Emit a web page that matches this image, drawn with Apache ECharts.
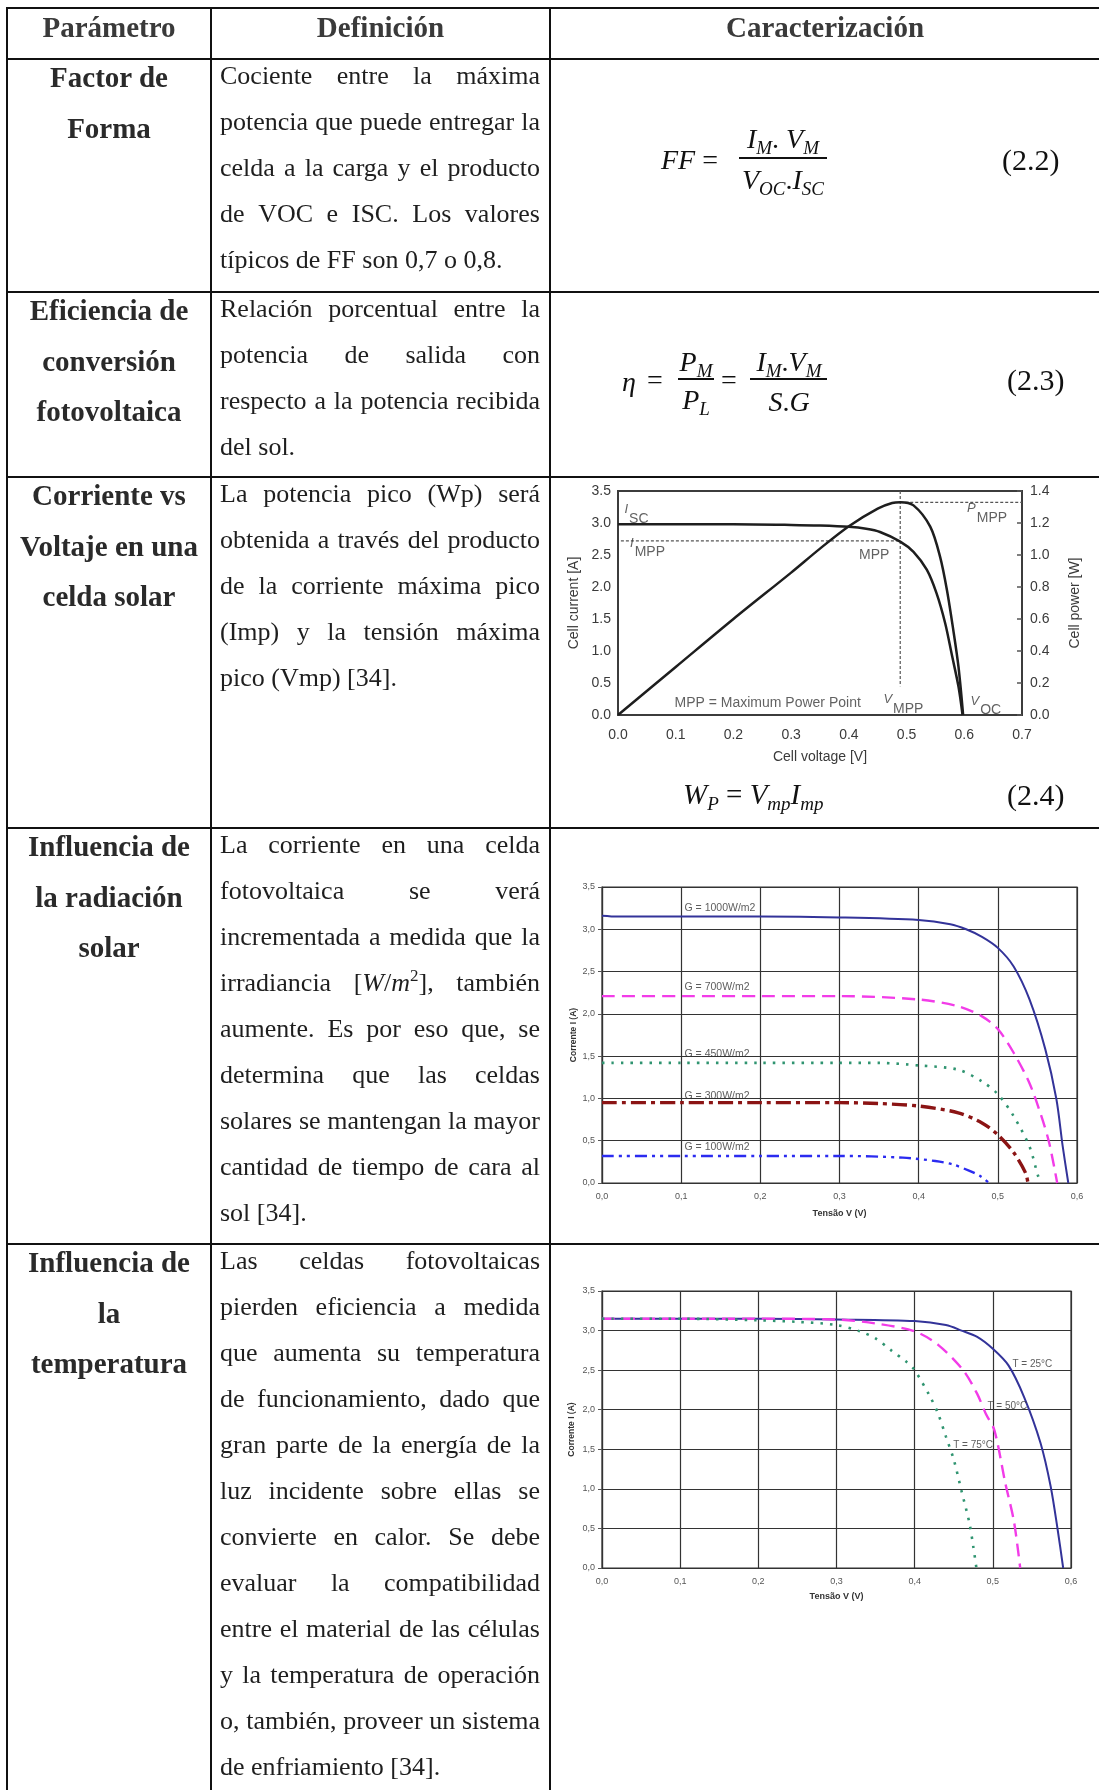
<!DOCTYPE html>
<html>
<head>
<meta charset="utf-8">
<script src="https://cdn.jsdelivr.net/npm/echarts@6/dist/echarts.min.js"></script>
<style>
html,body{margin:0;padding:0;background:#fff;}
#page{position:relative;width:1099px;height:1790px;overflow:hidden;background:#fff;}
#chart{position:absolute;left:0;top:0;width:1099px;height:1790px;}
.hl{position:absolute;height:2px;background:#111;left:6px;right:0;}
.vl{position:absolute;width:2px;background:#111;top:7px;bottom:0;}
.hdr{position:absolute;top:7px;height:41px;line-height:41px;font-family:'Liberation Serif',serif;font-weight:bold;font-size:29px;color:#3a3a3a;text-align:center;white-space:nowrap;}
.c1{position:absolute;left:8px;width:202px;text-align:center;font-family:'Liberation Serif',serif;font-weight:bold;font-size:29px;line-height:50.5px;color:#2a2a2a;white-space:nowrap;}
.c2{position:absolute;left:220px;width:320px;font-family:'Liberation Serif',serif;font-size:26px;line-height:46px;color:#1e1e1e;}
.ln{display:flex;justify-content:space-between;height:46px;white-space:nowrap;}
.ln.last{display:block;}
.eq{position:absolute;font-family:'Liberation Serif',serif;font-size:28px;line-height:28px;color:#111;white-space:nowrap;}
.eq i,.mi{font-style:italic;}
.eq .s{font-size:19px;position:relative;top:6px;font-style:italic;}
.bar{position:absolute;height:1.6px;background:#111;}
sup{font-size:17px;line-height:0;}
</style>
</head>
<body>
<div id="page">
  <div id="chart"></div>
  <div id="overlay"></div>
</div>
<script>
// ---------------- DATA ----------------
// Chart 1: I-V and P-V curve of a solar cell
const ivVoltage = [0, 0.1, 0.2, 0.3, 0.35, 0.4, 0.43, 0.454, 0.489, 0.512, 0.535, 0.552, 0.567, 0.578, 0.590, 0.597];
const ivCurrent = [2.98, 2.98, 2.98, 2.97, 2.96, 2.94, 2.91, 2.86, 2.71, 2.55, 2.27, 1.90, 1.43, 0.96, 0.44, 0];
const pvVoltage = [0, 0.1, 0.2, 0.3, 0.35, 0.4, 0.45, 0.475, 0.489, 0.512, 0.541, 0.558, 0.570, 0.581, 0.590, 0.598];
const pvPower   = [0, 0.30, 0.60, 0.89, 1.04, 1.18, 1.29, 1.325, 1.33, 1.31, 1.177, 0.99, 0.78, 0.53, 0.30, 0];
const mppVoltage = 0.489;
const mppCurrent = 2.72;
const mppPower = 1.329;
const pvAxisVoltageTicks = [0, 0.7, 0.1];
const pvAxisCurrentTicks = [0, 3.5, 0.5];
const pvAxisPowerTicks = [0, 1.4, 0.2];
const pvAnnotText = ['{it|I}{sb|SC}', '{it|I}{sb|MPP}', 'MPP', '{it|P}{sb|MPP}', '{it|V}{sb|MPP}', '{it|V}{sb|OC}', 'MPP = Maximum Power Point'];
const pvAnnotV = [0.0104, 0.02, 0.471, 0.604, 0.459, 0.61, 0.097];
const pvAnnotI = [3.20, 2.68, 2.50, 3.22, 0.23, 0.21, 0.19];

// Chart 2: influence of irradiance
const g1000V = [0, 0.02, 0.1, 0.2, 0.3, 0.4, 0.44, 0.46, 0.48, 0.5, 0.52, 0.54, 0.56, 0.574, 0.582, 0.589];
const g1000I = [3.16, 3.15, 3.15, 3.15, 3.14, 3.11, 3.06, 3.00, 2.91, 2.78, 2.56, 2.17, 1.58, 0.99, 0.43, 0];
const g700V = [0, 0.1, 0.2, 0.3, 0.4, 0.45, 0.48, 0.5, 0.52, 0.54, 0.555, 0.565, 0.575];
const g700I = [2.21, 2.21, 2.21, 2.21, 2.17, 2.09, 1.97, 1.82, 1.54, 1.18, 0.79, 0.47, 0];
const g450V = [0, 0.1, 0.2, 0.3, 0.35, 0.4, 0.45, 0.48, 0.5, 0.52, 0.54, 0.551, 0.555];
const g450I = [1.42, 1.42, 1.42, 1.42, 1.42, 1.39, 1.34, 1.20, 1.05, 0.79, 0.43, 0.08, 0];
const g300V = [0, 0.1, 0.2, 0.3, 0.35, 0.4, 0.45, 0.48, 0.5, 0.52, 0.535, 0.538];
const g300I = [0.95, 0.95, 0.95, 0.95, 0.94, 0.91, 0.83, 0.71, 0.57, 0.36, 0.12, 0];
const g100V = [0, 0.1, 0.2, 0.3, 0.38, 0.421, 0.443, 0.465, 0.478, 0.489];
const g100I = [0.32, 0.32, 0.32, 0.32, 0.30, 0.26, 0.22, 0.14, 0.08, 0];
const irrLabels = ['G = 1000W/m2', 'G = 700W/m2', 'G = 450W/m2', 'G = 300W/m2', 'G = 100W/m2'];
const irrLabelV = [0.1036, 0.1036, 0.1036, 0.1036, 0.1036];
const irrLabelI = [3.25, 2.32, 1.52, 1.03, 0.42];

// Chart 3: influence of temperature
const t25V = [0, 0.1, 0.2, 0.3, 0.4, 0.44, 0.46, 0.48, 0.5, 0.52, 0.54, 0.561, 0.574, 0.583, 0.59];
const t25I = [3.15, 3.15, 3.15, 3.14, 3.12, 3.07, 3.00, 2.92, 2.77, 2.56, 2.16, 1.58, 1.03, 0.48, 0];
const t50V = [0, 0.1, 0.2, 0.3, 0.35, 0.4, 0.43, 0.462, 0.48, 0.491, 0.502, 0.516, 0.527, 0.535];
const t50I = [3.15, 3.15, 3.15, 3.14, 3.09, 2.99, 2.82, 2.50, 2.20, 1.95, 1.74, 1.07, 0.59, 0];
const t75V = [0, 0.1, 0.2, 0.25, 0.3, 0.33, 0.35, 0.37, 0.39, 0.4, 0.42, 0.43, 0.44, 0.45, 0.46, 0.47, 0.475, 0.479];
const t75I = [3.15, 3.15, 3.13, 3.11, 3.07, 2.99, 2.90, 2.75, 2.60, 2.50, 2.16, 1.95, 1.66, 1.37, 0.97, 0.57, 0.27, 0];
const tempLabels = ['T = 25°C', 'T = 50°C', 'T = 75°C'];
const tempLabelV = [0.5245, 0.4925, 0.4487];
const tempLabelI = [2.57, 2.04, 1.55];
const ivAxisVoltageTicks = [0, 0.6, 0.1];
const ivAxisCurrentTicks = [0, 3.5, 0.5];

// Table text
const headers = ['Parámetro', 'Definición', 'Caracterización'];
const paramLines = [
  ['Factor de', 'Forma'],
  ['Eficiencia de', 'conversión', 'fotovoltaica'],
  ['Corriente vs', 'Voltaje en una', 'celda solar'],
  ['Influencia de', 'la radiación', 'solar'],
  ['Influencia de', 'la', 'temperatura']
];
const defLines = [
  ['Cociente entre la máxima', 'potencia que puede entregar la', 'celda a la carga y el producto', 'de VOC e ISC. Los valores', 'típicos de FF son 0,7 o 0,8.'],
  ['Relación porcentual entre la', 'potencia de salida con', 'respecto a la potencia recibida', 'del sol.'],
  ['La potencia pico (Wp) será', 'obtenida a través del producto', 'de la corriente máxima pico', '(Imp) y la tensión máxima', 'pico (Vmp) [34].'],
  ['La corriente en una celda', 'fotovoltaica se verá', 'incrementada a medida que la', 'irradiancia [W/m2], también', 'aumente. Es por eso que, se', 'determina que las celdas', 'solares se mantengan la mayor', 'cantidad de tiempo de cara al', 'sol [34].'],
  ['Las celdas fotovoltaicas', 'pierden eficiencia a medida', 'que aumenta su temperatura', 'de funcionamiento, dado que', 'gran parte de la energía de la', 'luz incidente sobre ellas se', 'convierte en calor. Se debe', 'evaluar la compatibilidad', 'entre el material de las células', 'y la temperatura de operación', 'o, también, proveer un sistema', 'de enfriamiento [34].']
];

// ---------------- TABLE (HTML) ----------------
const rowTops = [59, 292, 477, 828, 1244];
const hLines = [8, 59, 292, 477, 828, 1244];
const vLines = [7, 211, 550];
const ov = document.getElementById('overlay');
let html = '';
hLines.forEach(y => { html += '<div class="hl" style="top:' + (y - 1) + 'px"></div>'; });
vLines.forEach(x => { html += '<div class="vl" style="left:' + (x - 1) + 'px"></div>'; });
const hdrCols = [[8, 202], [212, 337], [551, 548]];
headers.forEach((h, i) => {
  html += '<div class="hdr" style="left:' + hdrCols[i][0] + 'px;width:' + hdrCols[i][1] + 'px">' + h + '</div>';
});
function fmt(w) {
  return w.replace('[W/m2]', '[<span class="mi">W</span>/<span class="mi">m</span><sup>2</sup>]');
}
rowTops.forEach((t, r) => {
  html += '<div class="c1" style="top:' + (t - 7) + 'px">' + paramLines[r].map(s => '<div>' + s + '</div>').join('') + '</div>';
  let cell = '<div class="c2" style="top:' + (t - 6) + 'px">';
  defLines[r].forEach((ln, idx) => {
    if (idx === defLines[r].length - 1) {
      cell += '<div class="ln last">' + fmt(ln) + '</div>';
    } else {
      cell += '<div class="ln">' + ln.split(' ').map(w => '<span>' + fmt(w) + '</span>').join('') + '</div>';
    }
  });
  cell += '</div>';
  html += cell;
});
// Equations
html += '<div class="eq" style="left:661px;top:146px"><i>FF</i> =</div>';
html += '<div class="eq" style="left:737px;top:125px;width:92px;text-align:center"><i>I</i><span class="s">M</span>. <i>V</i><span class="s">M</span></div>';
html += '<div class="bar" style="left:739px;top:157px;width:88px"></div>';
html += '<div class="eq" style="left:737px;top:166px;width:92px;text-align:center"><i>V</i><span class="s">OC</span>.<i>I</i><span class="s">SC</span></div>';
html += '<div class="eq" style="left:1002px;top:145px;font-size:30px;line-height:30px">(2.2)</div>';

html += '<div class="eq" style="left:622px;top:368px"><i>η</i></div>';
html += '<div class="eq" style="left:647px;top:366px">=</div>';
html += '<div class="eq" style="left:674px;top:348px;width:44px;text-align:center"><i>P</i><span class="s">M</span></div>';
html += '<div class="bar" style="left:678px;top:378px;width:36px"></div>';
html += '<div class="eq" style="left:674px;top:386px;width:44px;text-align:center"><i>P</i><span class="s">L</span></div>';
html += '<div class="eq" style="left:721px;top:366px">=</div>';
html += '<div class="eq" style="left:748px;top:348px;width:82px;text-align:center"><i>I</i><span class="s">M</span>.<i>V</i><span class="s">M</span></div>';
html += '<div class="bar" style="left:750px;top:378px;width:77px"></div>';
html += '<div class="eq" style="left:748px;top:388px;width:82px;text-align:center"><i>S</i>.<i>G</i></div>';
html += '<div class="eq" style="left:1007px;top:365px;font-size:30px;line-height:30px">(2.3)</div>';

html += '<div class="eq" style="left:683px;top:780px;font-size:29px"><i>W</i><span class="s">P</span> = <i>V</i><span class="s">mp</span><i>I</i><span class="s">mp</span></div>';
html += '<div class="eq" style="left:1007px;top:780px;font-size:30px;line-height:30px">(2.4)</div>';
ov.innerHTML = html;

// ---------------- CHARTS (ECharts) ----------------
const FONT = "'Liberation Sans', Arial, sans-serif";
const pair = (xs, ys) => xs.map((x, i) => [x, ys[i]]);
const f1 = v => v.toFixed(1);
const fc = v => v.toFixed(1).replace('.', ',');

function lineSeries(xi, yi, xs, ys, color, width, dash, extra) {
  return Object.assign({
    type: 'line', xAxisIndex: xi, yAxisIndex: yi, data: pair(xs, ys),
    showSymbol: false, symbol: 'none', smooth: 0.3, silent: true, z: 3,
    lineStyle: {color: color, width: width, type: dash || 'solid', cap: 'butt'}
  }, extra || {});
}
function labelSeries(xi, yi, texts, xs, ys, pos, style) {
  return {
    type: 'scatter', xAxisIndex: xi, yAxisIndex: yi, silent: true, z: 10,
    symbolSize: 1, itemStyle: {color: 'rgba(0,0,0,0)'},
    data: texts.map((t, i) => ({value: [xs[i], ys[i]], name: t,
      label: {position: (pos && pos[i]) || 'right'}})),
    label: Object.assign({show: true, distance: 0, formatter: p => p.name}, style)
  };
}

const chart = echarts.init(document.getElementById('chart'));
const c1Text = '#3a3a3a';
const option = {
  animation: false,
  grid: [
    {left: 618, top: 491, width: 404, height: 224, show: true, borderColor: '#3c3c3c', borderWidth: 2, backgroundColor: 'rgba(0,0,0,0)'},
    {left: 602, top: 887, width: 475, height: 296, show: true, borderColor: '#333', borderWidth: 1.2, backgroundColor: 'rgba(0,0,0,0)'},
    {left: 602, top: 1291, width: 469, height: 277, show: true, borderColor: '#333', borderWidth: 1.2, backgroundColor: 'rgba(0,0,0,0)'}
  ],
  xAxis: [
    {gridIndex: 0, type: 'value', min: pvAxisVoltageTicks[0], max: pvAxisVoltageTicks[1], interval: pvAxisVoltageTicks[2],
      axisLine: {show: true, onZero: false, lineStyle: {color: '#3c3c3c', width: 2}}, axisTick: {show: false}, splitLine: {show: false},
      axisLabel: {formatter: f1, color: c1Text, fontSize: 14, fontFamily: FONT, margin: 13, showMaxLabel: true, showMinLabel: true},
      name: 'Cell voltage [V]', nameLocation: 'middle', nameGap: 35,
      nameTextStyle: {color: c1Text, fontSize: 14, fontFamily: FONT}},
    {gridIndex: 1, type: 'value', min: ivAxisVoltageTicks[0], max: ivAxisVoltageTicks[1], interval: ivAxisVoltageTicks[2],
      axisLine: {show: true, onZero: false, lineStyle: {color: '#333', width: 1.2}}, axisTick: {show: false},
      splitLine: {show: true, lineStyle: {color: '#333', width: 1.2}},
      axisLabel: {formatter: fc, color: '#555', fontSize: 9, fontFamily: FONT, margin: 9, showMaxLabel: true, showMinLabel: true},
      name: 'Tensão V (V)', nameLocation: 'middle', nameGap: 26,
      nameTextStyle: {color: '#333', fontSize: 9, fontWeight: 'bold', fontFamily: FONT}},
    {gridIndex: 2, type: 'value', min: ivAxisVoltageTicks[0], max: ivAxisVoltageTicks[1], interval: ivAxisVoltageTicks[2],
      axisLine: {show: true, onZero: false, lineStyle: {color: '#333', width: 1.2}}, axisTick: {show: false},
      splitLine: {show: true, lineStyle: {color: '#333', width: 1.2}},
      axisLabel: {formatter: fc, color: '#555', fontSize: 9, fontFamily: FONT, margin: 9, showMaxLabel: true, showMinLabel: true},
      name: 'Tensão V (V)', nameLocation: 'middle', nameGap: 24,
      nameTextStyle: {color: '#333', fontSize: 9, fontWeight: 'bold', fontFamily: FONT}}
  ],
  yAxis: [
    {gridIndex: 0, type: 'value', position: 'left', min: pvAxisCurrentTicks[0], max: pvAxisCurrentTicks[1], interval: pvAxisCurrentTicks[2],
      axisLine: {show: true, onZero: false, lineStyle: {color: '#3c3c3c', width: 2}}, axisTick: {show: false}, splitLine: {show: false},
      axisLabel: {formatter: f1, color: c1Text, fontSize: 14, fontFamily: FONT, margin: 7, showMaxLabel: true},
      name: 'Cell current [A]', nameLocation: 'middle', nameGap: 37, nameRotate: 90,
      nameTextStyle: {color: c1Text, fontSize: 14, fontFamily: FONT}},
    {gridIndex: 0, type: 'value', position: 'right', min: pvAxisPowerTicks[0], max: pvAxisPowerTicks[1], interval: pvAxisPowerTicks[2],
      axisLine: {show: true, onZero: false, lineStyle: {color: '#3c3c3c', width: 2}},
      axisTick: {show: true, inside: true, length: 5, lineStyle: {color: '#555', width: 1.5}}, splitLine: {show: false},
      axisLabel: {formatter: f1, color: c1Text, fontSize: 14, fontFamily: FONT, margin: 8, showMaxLabel: true},
      name: 'Cell power [W]', nameLocation: 'middle', nameGap: 46, nameRotate: 90,
      nameTextStyle: {color: c1Text, fontSize: 14, fontFamily: FONT}},
    {gridIndex: 1, type: 'value', min: ivAxisCurrentTicks[0], max: ivAxisCurrentTicks[1], interval: ivAxisCurrentTicks[2],
      axisLine: {show: true, onZero: false, lineStyle: {color: '#333', width: 1.2}},
      axisTick: {show: true, length: 4, lineStyle: {color: '#555'}},
      splitLine: {show: true, lineStyle: {color: '#333', width: 1.2}},
      axisLabel: {formatter: fc, color: '#555', fontSize: 9, fontFamily: FONT, margin: 7, showMaxLabel: true},
      name: 'Corrente I (A)', nameLocation: 'middle', nameGap: 24, nameRotate: 90,
      nameTextStyle: {color: '#333', fontSize: 8.5, fontWeight: 'bold', fontFamily: FONT}},
    {gridIndex: 2, type: 'value', min: ivAxisCurrentTicks[0], max: ivAxisCurrentTicks[1], interval: ivAxisCurrentTicks[2],
      axisLine: {show: true, onZero: false, lineStyle: {color: '#333', width: 1.2}},
      axisTick: {show: true, length: 4, lineStyle: {color: '#555'}},
      splitLine: {show: true, lineStyle: {color: '#333', width: 1.2}},
      axisLabel: {formatter: fc, color: '#555', fontSize: 9, fontFamily: FONT, margin: 7, showMaxLabel: true},
      name: 'Corrente I (A)', nameLocation: 'middle', nameGap: 26, nameRotate: 90,
      nameTextStyle: {color: '#333', fontSize: 8.5, fontWeight: 'bold', fontFamily: FONT}}
  ],
  series: [
    // chart 1
    lineSeries(0, 0, ivVoltage, ivCurrent, '#1e1e1e', 2.5),
    lineSeries(0, 1, pvVoltage, pvPower, '#1e1e1e', 2.5),
    lineSeries(0, 0, [0.005, mppVoltage], [mppCurrent, mppCurrent], '#555', 1.2, [3, 2], {smooth: false, z: 2}),
    lineSeries(0, 1, [mppVoltage, pvAxisVoltageTicks[1]], [mppPower, mppPower], '#555', 1.2, [3, 2], {smooth: false, z: 2}),
    lineSeries(0, 0, [mppVoltage, mppVoltage], [pvAxisCurrentTicks[1], 0.45], '#555', 1.2, [3, 2], {smooth: false, z: 2}),
    labelSeries(0, 0, pvAnnotText, pvAnnotV, pvAnnotI, [null, null, 'left', null, null, null, null], {
      color: c1Text, fontSize: 14, fontFamily: FONT,
      rich: {
        it: {fontStyle: 'italic', fontSize: 13, color: c1Text, fontFamily: FONT, lineHeight: 13, verticalAlign: 'top'},
        sb: {fontSize: 14, color: c1Text, fontFamily: FONT, lineHeight: 14, padding: [9, 0, 0, 1], verticalAlign: 'top'}
      }
    }),
    // chart 2
    lineSeries(1, 2, g1000V, g1000I, '#333399', 2),
    lineSeries(1, 2, g700V, g700I, '#f23ce8', 2.4, [13, 7]),
    lineSeries(1, 2, g450V, g450I, '#2f9470', 2.6, [2.5, 7]),
    lineSeries(1, 2, g300V, g300I, '#8b1414', 3.4, [15, 5, 4, 5]),
    lineSeries(1, 2, g100V, g100I, '#2b2bf0', 2.4, [12, 5, 3, 5, 3, 5]),
    labelSeries(1, 2, irrLabels, irrLabelV, irrLabelI, null, {color: '#333', fontSize: 10.5, fontFamily: FONT}),
    // chart 3
    lineSeries(2, 3, t25V, t25I, '#333399', 2),
    lineSeries(2, 3, t50V, t50I, '#f23ce8', 2.4, [13, 7]),
    lineSeries(2, 3, t75V, t75I, '#2f9470', 2.6, [2.5, 7]),
    labelSeries(2, 3, tempLabels, tempLabelV, tempLabelI, null, {color: '#333', fontSize: 10, fontFamily: FONT})
  ]
};
chart.setOption(option);
</script>
</body>
</html>
